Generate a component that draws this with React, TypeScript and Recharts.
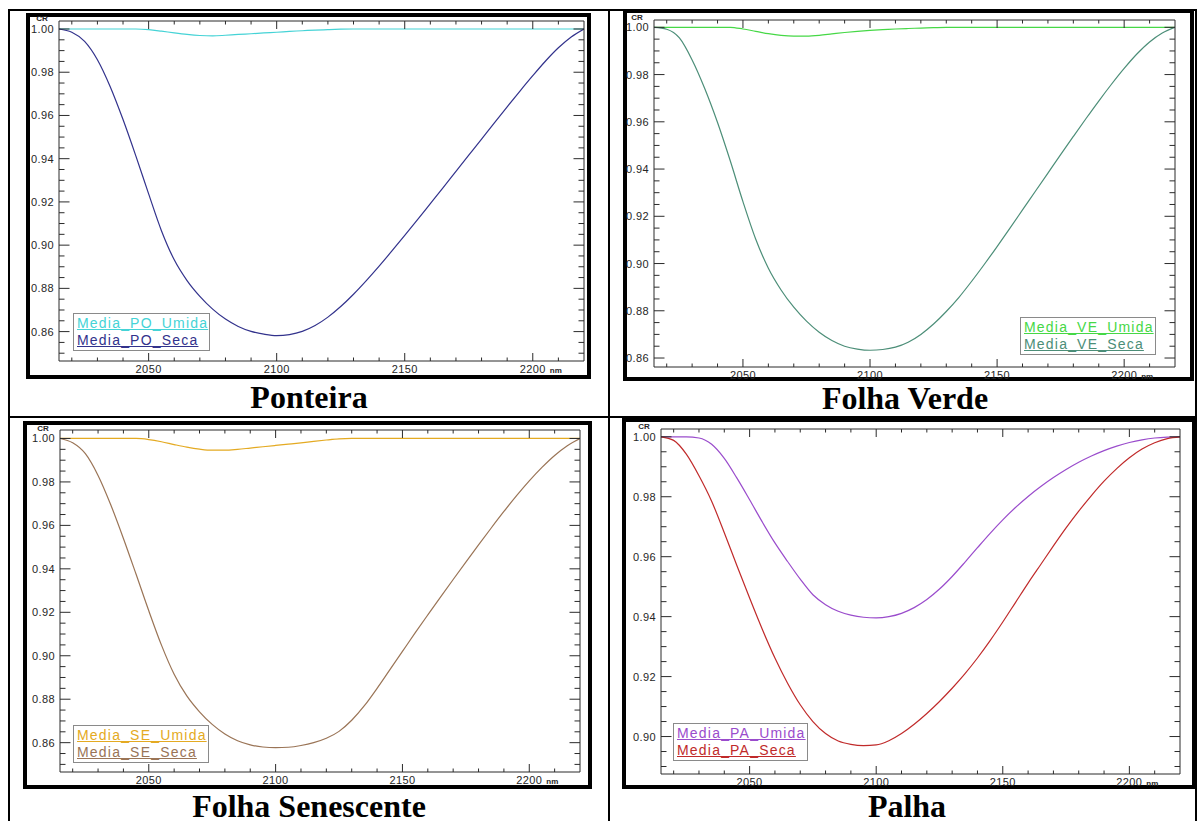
import React from 'react';
import { LineChart, Line, XAxis, YAxis, Legend } from 'recharts';

// ---------- data ----------
const wavelengths = [
  2015, 2020, 2025, 2030, 2035, 2040, 2045, 2050, 2055, 2060, 2065, 2070, 2075, 2080,
  2085, 2090, 2095, 2100, 2105, 2110, 2115, 2120, 2125, 2130, 2135, 2140, 2145, 2150,
  2155, 2160, 2165, 2170, 2175, 2180, 2185, 2190, 2195, 2200, 2205, 2210, 2215, 2220,
];

const poUmida = [
  1.0, 1.0, 1.0, 1.0, 1.0, 1.0, 1.0, 0.9997, 0.999, 0.9982, 0.9975, 0.997, 0.9968, 0.9971,
  0.9975, 0.9978, 0.9982, 0.9985, 0.9989, 0.9992, 0.9995, 0.9997, 0.9999, 1.0, 1.0, 1.0, 1.0, 1.0,
  1.0, 1.0, 1.0, 1.0, 1.0, 1.0, 1.0, 1.0, 1.0, 1.0, 1.0, 1.0, 1.0, 1.0,
];
const poSeca = [
  1.0, 0.9985, 0.9943, 0.9858, 0.9733, 0.9581, 0.9413, 0.9237, 0.9067, 0.8932, 0.8836, 0.8763, 0.8704, 0.8658,
  0.8624, 0.8601, 0.8588, 0.8581, 0.8586, 0.8601, 0.8628, 0.8667, 0.8716, 0.8773, 0.8836, 0.8903, 0.8973, 0.9045,
  0.9118, 0.9192, 0.9266, 0.9341, 0.9416, 0.9491, 0.9566, 0.964, 0.9713, 0.9784, 0.9852, 0.9913, 0.9963, 1.0,
];

const veUmida = [
  1.0, 1.0, 1.0, 1.0, 1.0, 1.0, 1.0, 0.9993, 0.9983, 0.9973, 0.9966, 0.9963, 0.9963, 0.9966,
  0.9972, 0.9978, 0.9983, 0.9987, 0.999, 0.9993, 0.9995, 0.9997, 0.9999, 1.0, 1.0, 1.0, 1.0, 1.0,
  1.0, 1.0, 1.0, 1.0, 1.0, 1.0, 1.0, 1.0, 1.0, 1.0, 1.0, 1.0, 1.0, 1.0,
];
const veSeca = [
  1.0, 0.9992, 0.9955, 0.9862, 0.974, 0.9597, 0.9435, 0.9262, 0.9104, 0.898, 0.8888, 0.8815, 0.8756, 0.8709,
  0.8674, 0.865, 0.8638, 0.8633, 0.8636, 0.8646, 0.8667, 0.87, 0.8744, 0.8797, 0.8857, 0.8925, 0.8997, 0.9072,
  0.9149, 0.9227, 0.9305, 0.9383, 0.9461, 0.9538, 0.9614, 0.9688, 0.9759, 0.9826, 0.9887, 0.9938, 0.9976, 1.0,
];

const seUmida = [
  1.0, 1.0, 1.0, 1.0, 1.0, 1.0, 1.0, 0.9995, 0.9985, 0.9972, 0.996, 0.9951, 0.9946, 0.9946,
  0.995, 0.9956, 0.9962, 0.9968, 0.9974, 0.998, 0.9987, 0.9993, 0.9998, 1.0, 1.0, 1.0, 1.0, 1.0,
  1.0, 1.0, 1.0, 1.0, 1.0, 1.0, 1.0, 1.0, 1.0, 1.0, 1.0, 1.0, 1.0, 1.0,
];
const seSeca = [
  1.0, 0.998, 0.993, 0.983, 0.9695, 0.954, 0.9375, 0.9207, 0.9049, 0.8915, 0.8815, 0.8742, 0.8684, 0.864,
  0.8609, 0.859, 0.858, 0.8577, 0.8579, 0.8587, 0.86, 0.862, 0.8652, 0.8703, 0.877, 0.885, 0.8935, 0.902,
  0.9105, 0.9188, 0.927, 0.9351, 0.9431, 0.951, 0.9588, 0.9664, 0.9737, 0.9805, 0.9867, 0.9922, 0.9967, 1.0,
];

const paUmida = [
  1.0, 1.0, 1.0, 0.9996, 0.9975, 0.9928, 0.9862, 0.979, 0.9716, 0.9646, 0.9584, 0.9525, 0.9473, 0.944,
  0.9418, 0.9405, 0.9398, 0.9396, 0.94, 0.9411, 0.943, 0.9457, 0.9492, 0.9534, 0.9581, 0.963, 0.9678, 0.9723,
  0.9764, 0.9801, 0.9834, 0.9864, 0.9891, 0.9915, 0.9936, 0.9954, 0.9969, 0.9981, 0.999, 0.9996, 0.9999, 1.0,
];
const paSeca = [
  1.0, 0.9988, 0.9942, 0.987, 0.9785, 0.968, 0.957, 0.9462, 0.9358, 0.9262, 0.9178, 0.9106, 0.905, 0.901,
  0.8985, 0.8974, 0.897, 0.8972, 0.8986, 0.901, 0.9041, 0.9077, 0.9117, 0.9161, 0.9209, 0.9262, 0.932, 0.9382,
  0.9447, 0.9512, 0.9574, 0.9636, 0.9696, 0.9752, 0.9804, 0.9852, 0.9894, 0.993, 0.9959, 0.998, 0.9994, 1.0,
];

// ---------- ticks ----------
const xTicks = [
  2020, 2030, 2040, 2050, 2060, 2070, 2080, 2090, 2100, 2110,
  2120, 2130, 2140, 2150, 2160, 2170, 2180, 2190, 2200, 2210,
];
const xLabelTicks = [2050, 2100, 2150, 2200];

const yTicksWide = [
  0.85, 0.855, 0.86, 0.865, 0.87, 0.875, 0.88, 0.885, 0.89, 0.895, 0.9, 0.905, 0.91, 0.915, 0.92, 0.925,
  0.93, 0.935, 0.94, 0.945, 0.95, 0.955, 0.96, 0.965, 0.97, 0.975, 0.98, 0.985, 0.99, 0.995, 1.0,
];
const yTicksVE = [
  0.86, 0.865, 0.87, 0.875, 0.88, 0.885, 0.89, 0.895, 0.9, 0.905, 0.91, 0.915, 0.92, 0.925,
  0.93, 0.935, 0.94, 0.945, 0.95, 0.955, 0.96, 0.965, 0.97, 0.975, 0.98, 0.985, 0.99, 0.995, 1.0,
];
const yTicksPA = [
  0.89, 0.895, 0.9, 0.905, 0.91, 0.915, 0.92, 0.925, 0.93, 0.935, 0.94, 0.945, 0.95, 0.955,
  0.96, 0.965, 0.97, 0.975, 0.98, 0.985, 0.99, 0.995, 1.0,
];
const yLabelTicks = [0.86, 0.88, 0.9, 0.92, 0.94, 0.96, 0.98, 1.0];

const captions = ['Ponteira', 'Folha Verde', 'Folha Senescente', 'Palha'];

// ---------- styling ----------
const AXIS = '#2b2b2b';
const LABEL = '#262626';
const SANS = '"Liberation Sans", Arial, Helvetica, sans-serif';

const near = (a: number, b: number) => Math.abs(a - b) < 1e-6;
const isIn = (arr: number[], v: number) => arr.some((a) => near(a, v));

const LeftTick = (p: any) => {
  const { x, y, payload } = p;
  const v = payload.value as number;
  const major = isIn(yLabelTicks, v);
  return (
    <g>
      <line x1={x} x2={x + (major ? 10.5 : 5.5)} y1={y} y2={y} stroke={AXIS} strokeWidth={1} />
      {major && (
        <text x={x - 5} y={y + 4} textAnchor="end" fontFamily={SANS} fontSize={11} fill={LABEL} letterSpacing={0.4}>
          {v.toFixed(2)}
        </text>
      )}
      {near(v, 1) && (
        <text x={x - 17} y={y - 7.5} textAnchor="middle" fontFamily={SANS} fontSize={8} fontWeight="bold" fill={LABEL}>
          CR
        </text>
      )}
    </g>
  );
};

const RightTick = (p: any) => {
  const { x, y, payload } = p;
  const major = isIn(yLabelTicks, payload.value);
  return <line x1={x} x2={x - (major ? 10.5 : 5.5)} y1={y} y2={y} stroke={AXIS} strokeWidth={1} />;
};

const BottomTick = (p: any) => {
  const { x, y, payload } = p;
  const v = payload.value as number;
  const major = isIn(xLabelTicks, v);
  return (
    <g>
      <line x1={x} x2={x} y1={y} y2={y - (major ? 8 : 3.5)} stroke={AXIS} strokeWidth={1} />
      {major && (
        <text x={x} y={y + 12} textAnchor="middle" fontFamily={SANS} fontSize={11} fill={LABEL} letterSpacing={0.4}>
          {String(v)}
        </text>
      )}
      {v === 2200 && (
        <text x={x + 17} y={y + 12} textAnchor="start" fontFamily={SANS} fontSize={8} fontWeight="bold" fill={LABEL}>
          nm
        </text>
      )}
    </g>
  );
};

const TopTick = (p: any) => {
  const { x, y, payload } = p;
  const major = isIn(xLabelTicks, payload.value);
  return <line x1={x} x2={x} y1={y} y2={y + (major ? 8 : 3.5)} stroke={AXIS} strokeWidth={1} />;
};

const renderLegend = (props: any, order: string[]) => {
  const items = [...(props.payload || [])].sort(
    (a: any, b: any) => order.indexOf(a.value) - order.indexOf(b.value)
  );
  return (
    <div
      style={{
        display: 'inline-block',
        border: '1px solid #8a8a8a',
        background: '#fff',
        padding: '1px 1px 1px 3px',
        fontFamily: SANS,
        fontSize: 14,
        letterSpacing: 1.2,
        lineHeight: '17px',
        whiteSpace: 'nowrap',
        textAlign: 'left',
      }}
    >
      {items.map((it: any) => (
        <div key={it.value} style={{ color: it.color, textDecoration: 'underline' }}>
          {it.value}
        </div>
      ))}
    </div>
  );
};

type Series = { key: string; name: string; color: string; values: number[] };
type PanelCfg = {
  plot: { left: number; right: number; top: number; bottom: number };
  yDomain: [number, number];
  yTicks: number[];
  legend: { x: number; y: number };
  series: Series[];
};

const panels: PanelCfg[] = [
  {
    plot: { left: 59, right: 584, top: 21, bottom: 361 },
    yDomain: [0.8464, 1.0037],
    yTicks: yTicksWide,
    legend: { x: 73, y: 313 },
    series: [
      { key: 'u', name: 'Media_PO_Umida', color: '#45d3d6', values: poUmida },
      { key: 's', name: 'Media_PO_Seca', color: '#32328c', values: poSeca },
    ],
  },
  {
    plot: { left: 654, right: 1175, top: 20, bottom: 367 },
    yDomain: [0.8562, 1.0031],
    yTicks: yTicksVE,
    legend: { x: 1020, y: 317 },
    series: [
      { key: 'u', name: 'Media_VE_Umida', color: '#46d846', values: veUmida },
      { key: 's', name: 'Media_VE_Seca', color: '#4c8e78', values: veSeca },
    ],
  },
  {
    plot: { left: 60, right: 580, top: 430, bottom: 772 },
    yDomain: [0.8465, 1.0039],
    yTicks: yTicksWide,
    legend: { x: 73, y: 725 },
    series: [
      { key: 'u', name: 'Media_SE_Umida', color: '#e4aa22', values: seUmida },
      { key: 's', name: 'Media_SE_Seca', color: '#9a7456', values: seSeca },
    ],
  },
  {
    plot: { left: 661, right: 1180, top: 429, bottom: 774 },
    yDomain: [0.8875, 1.0026],
    yTicks: yTicksPA,
    legend: { x: 673, y: 723 },
    series: [
      { key: 'u', name: 'Media_PA_Umida', color: '#9a4ccc', values: paUmida },
      { key: 's', name: 'Media_PA_Seca', color: '#c02a2a', values: paSeca },
    ],
  },
];

const PAD_L = 45;
const PAD_R = 10;
const PAD_T = 10;
const PAD_B = 25;

function Panel({ cfg }: { cfg: PanelCfg }) {
  const { plot, yDomain, yTicks, legend, series } = cfg;
  const width = plot.right - plot.left + PAD_L + PAD_R;
  const height = plot.bottom - plot.top + PAD_T + PAD_B;
  const left = plot.left - PAD_L;
  const top = plot.top - PAD_T;
  const data = wavelengths.map((w, i) => {
    const row: any = { wl: w };
    series.forEach((s) => {
      row[s.key] = s.values[i];
    });
    return row;
  });
  const order = series.map((s) => s.name);
  const xDomain: [number, number] = [2015, 2220];
  return (
    <div style={{ position: 'absolute', left, top, width, height }}>
      <LineChart width={width} height={height} data={data} margin={{ top: 0, right: 0, bottom: 0, left: 0 }}>
        <XAxis
          xAxisId="bottom"
          dataKey="wl"
          type="number"
          domain={xDomain}
          allowDataOverflow
          ticks={xTicks}
          interval={0}
          height={PAD_B}
          tickSize={0}
          tickMargin={0}
          tickLine={false}
          axisLine={{ stroke: AXIS }}
          tick={(p: any) => <BottomTick {...p} />}
        />
        <XAxis
          xAxisId="top"
          orientation="top"
          dataKey="wl"
          type="number"
          domain={xDomain}
          allowDataOverflow
          ticks={xTicks}
          interval={0}
          height={PAD_T}
          tickSize={0}
          tickMargin={0}
          tickLine={false}
          axisLine={{ stroke: AXIS }}
          tick={(p: any) => <TopTick {...p} />}
        />
        <YAxis
          yAxisId="left"
          type="number"
          domain={yDomain}
          allowDataOverflow
          ticks={yTicks}
          interval={0}
          width={PAD_L}
          tickSize={0}
          tickMargin={0}
          tickLine={false}
          axisLine={{ stroke: AXIS }}
          tick={(p: any) => <LeftTick {...p} />}
        />
        <YAxis
          yAxisId="right"
          orientation="right"
          type="number"
          domain={yDomain}
          allowDataOverflow
          ticks={yTicks}
          interval={0}
          width={PAD_R}
          tickSize={0}
          tickMargin={0}
          tickLine={false}
          axisLine={{ stroke: AXIS }}
          tick={(p: any) => <RightTick {...p} />}
        />
        <Legend
          layout="vertical"
          align="center"
          verticalAlign="middle"
          wrapperStyle={{ left: legend.x - left, top: legend.y - top, width: 'auto' }}
          content={(props: any) => renderLegend(props, order)}
        />
        {series.map((s) => (
          <Line
            key={s.key}
            xAxisId="bottom"
            yAxisId="left"
            dataKey={s.key}
            name={s.name}
            stroke={s.color}
            strokeWidth={1.2}
            dot={false}
            type="monotone"
            isAnimationActive={false}
          />
        ))}
      </LineChart>
    </div>
  );
}

// frames: outer boxes [x0, y0, x1, y1]
const frames = [
  [26, 13, 591, 379],
  [623, 9, 1194, 381],
  [23, 421, 592, 789],
  [622, 418, 1196, 789],
];
const captionPos = [
  [309, 408],
  [905, 409],
  [309, 817],
  [907, 817],
];

export default function App() {
  return (
    <div style={{ position: 'absolute', left: 0, top: 0, width: 1203, height: 821, background: '#fff', overflow: 'hidden' }}>
      <svg width={1203} height={821} style={{ position: 'absolute', left: 0, top: 0 }}>
        <rect x={8} y={9} width={2} height={812} fill="#000" />
        <rect x={8} y={9} width={1189} height={2} fill="#000" />
        <rect x={1195} y={9} width={2} height={812} fill="#000" />
        <rect x={608} y={9} width={2} height={812} fill="#000" />
        <rect x={8} y={416} width={1189} height={2} fill="#000" />
        {frames.map((f, i) => (
          <rect key={i} x={f[0] + 2} y={f[1] + 2} width={f[2] - f[0] - 4} height={f[3] - f[1] - 4} fill="#fff" stroke="#000" strokeWidth={4} />
        ))}
        {captions.map((c, i) => (
          <text
            key={c}
            x={captionPos[i][0]}
            y={captionPos[i][1]}
            textAnchor="middle"
            fontFamily='"Liberation Serif", "Times New Roman", serif'
            fontWeight="bold"
            fontSize={32}
            fill="#000"
          >
            {c}
          </text>
        ))}
      </svg>
      {panels.map((p, i) => (
        <Panel key={i} cfg={p} />
      ))}
    </div>
  );
}
